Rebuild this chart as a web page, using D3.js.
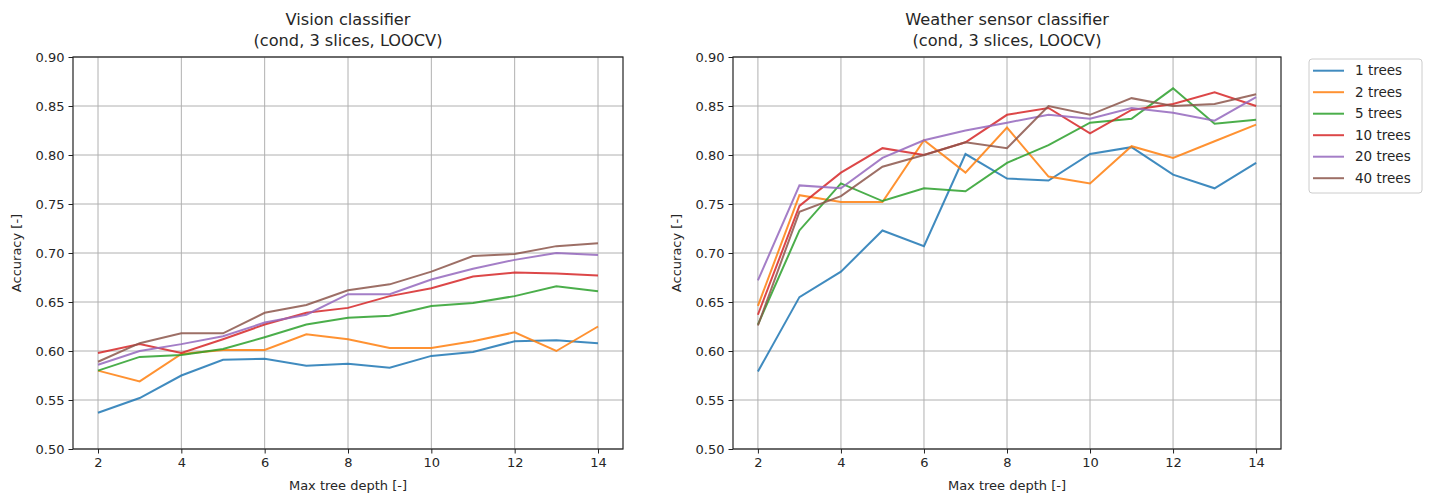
<!DOCTYPE html>
<html>
<head>
<meta charset="utf-8">
<script src="https://cdn.jsdelivr.net/npm/d3@7"></script>
<style>
  body { margin: 0; background: #fff; }
  text { font-family: "DejaVu Sans", sans-serif; fill: #262626; }
</style>
</head>
<body>
<div id="chart"></div>
<script>
// data
var depths = [2, 3, 4, 5, 6, 7, 8, 9, 10, 11, 12, 13, 14];
var seriesNames = ["1 trees", "2 trees", "5 trees", "10 trees", "20 trees", "40 trees"];
var colors = ["#1f77b4", "#ff7f0e", "#2ca02c", "#d62728", "#9467bd", "#8c564b"];
var xTicks = [2, 4, 6, 8, 10, 12, 14];
var yTicks = [0.50, 0.55, 0.60, 0.65, 0.70, 0.75, 0.80, 0.85, 0.90];

var vision1  = [0.537, 0.552, 0.575, 0.591, 0.592, 0.585, 0.587, 0.583, 0.595, 0.599, 0.610, 0.611, 0.608];
var vision2  = [0.580, 0.569, 0.597, 0.601, 0.601, 0.617, 0.612, 0.603, 0.603, 0.610, 0.619, 0.600, 0.625];
var vision5  = [0.580, 0.594, 0.596, 0.602, 0.614, 0.627, 0.634, 0.636, 0.646, 0.649, 0.656, 0.666, 0.661];
var vision10 = [0.598, 0.607, 0.598, 0.612, 0.627, 0.639, 0.644, 0.656, 0.664, 0.676, 0.680, 0.679, 0.677];
var vision20 = [0.586, 0.600, 0.607, 0.615, 0.629, 0.637, 0.658, 0.658, 0.673, 0.684, 0.693, 0.700, 0.698];
var vision40 = [0.589, 0.608, 0.618, 0.618, 0.639, 0.647, 0.662, 0.668, 0.681, 0.697, 0.699, 0.707, 0.710];

var weather1  = [0.579, 0.655, 0.681, 0.723, 0.707, 0.801, 0.776, 0.774, 0.801, 0.808, 0.780, 0.766, 0.792];
var weather2  = [0.646, 0.759, 0.752, 0.752, 0.815, 0.782, 0.828, 0.778, 0.771, 0.809, 0.797, 0.814, 0.831];
var weather5  = [0.627, 0.723, 0.771, 0.753, 0.766, 0.763, 0.792, 0.810, 0.833, 0.837, 0.868, 0.832, 0.836];
var weather10 = [0.637, 0.748, 0.782, 0.807, 0.800, 0.813, 0.841, 0.848, 0.822, 0.846, 0.852, 0.864, 0.850];
var weather20 = [0.672, 0.769, 0.766, 0.797, 0.815, 0.825, 0.833, 0.841, 0.837, 0.848, 0.843, 0.835, 0.859];
var weather40 = [0.626, 0.742, 0.758, 0.788, 0.800, 0.813, 0.807, 0.850, 0.841, 0.858, 0.850, 0.852, 0.862];

var W = 1431, H = 494;
var top_ = 57, bottom = 449;

var svg = d3.select("#chart").append("svg")
    .attr("width", W)
    .attr("height", H);

function drawPanel(left, right, titleLines, series) {
    var x = d3.scaleLinear().domain([1.4, 14.6]).range([left, right]);
    var y = d3.scaleLinear().domain([0.5, 0.9]).range([bottom, top_]);
    var g = svg.append("g");

    // grid
    g.selectAll(".vgrid").data(xTicks).enter().append("line")
        .attr("x1", d => x(d)).attr("x2", d => x(d))
        .attr("y1", top_).attr("y2", bottom)
        .attr("stroke", "#b0b0b0").attr("stroke-width", 1);
    g.selectAll(".hgrid").data(yTicks).enter().append("line")
        .attr("x1", left).attr("x2", right)
        .attr("y1", d => y(d)).attr("y2", d => y(d))
        .attr("stroke", "#b0b0b0").attr("stroke-width", 1);

    // lines
    var line = d3.line()
        .x((d, i) => x(depths[i]))
        .y(d => y(d));
    series.forEach(function(s, i) {
        g.append("path")
            .datum(s)
            .attr("d", line)
            .attr("fill", "none")
            .attr("stroke", colors[i])
            .attr("stroke-opacity", 0.85)
            .attr("stroke-width", 2);
    });

    // axes
    var xAxis = d3.axisBottom(x).tickValues(xTicks).tickSize(4.5).tickPadding(4).tickFormat(d3.format("d"));
    var yAxis = d3.axisLeft(y).tickValues(yTicks).tickSize(4.5).tickPadding(4).tickFormat(d3.format(".2f"));
    var ax = g.append("g").attr("transform", "translate(0," + bottom + ")").call(xAxis);
    var ay = g.append("g").attr("transform", "translate(" + left + ",0)").call(yAxis);
    [ax, ay].forEach(function(a) {
        a.select(".domain").remove();
        a.selectAll("line").attr("stroke", "#222");
        a.selectAll("text").style("font-size", "13px").attr("fill", "#262626")
            .style("font-family", "DejaVu Sans");
    });

    // frame
    g.append("rect")
        .attr("x", left).attr("y", top_)
        .attr("width", right - left).attr("height", bottom - top_)
        .attr("fill", "none").attr("stroke", "#222").attr("stroke-width", 1.2);

    // labels
    g.append("text")
        .attr("x", (left + right) / 2).attr("y", 490)
        .attr("text-anchor", "middle").style("font-size", "13px")
        .text("Max tree depth [-]");
    g.append("text")
        .attr("transform", "translate(" + (left - 57) + "," + ((top_ + bottom) / 2) + ") rotate(-90)")
        .attr("text-anchor", "middle").attr("dy", "0.35em").style("font-size", "13px")
        .text("Accuracy [-]");
    titleLines.forEach(function(t, i) {
        g.append("text")
            .attr("x", (left + right) / 2).attr("y", 25 + i * 21)
            .attr("text-anchor", "middle").style("font-size", "16.2px")
            .text(t);
    });
}

drawPanel(73, 623, ["Vision classifier", "(cond, 3 slices, LOOCV)"],
    [vision1, vision2, vision5, vision10, vision20, vision40]);
drawPanel(733, 1281, ["Weather sensor classifier", "(cond, 3 slices, LOOCV)"],
    [weather1, weather2, weather5, weather10, weather20, weather40]);

// legend
var leg = svg.append("g").attr("transform", "translate(1309,59)");
leg.append("rect")
    .attr("width", 113).attr("height", 134).attr("rx", 3)
    .attr("fill", "#fff").attr("stroke", "#cccccc");
seriesNames.forEach(function(n, i) {
    var yy = 11.7 + i * 21.5;
    leg.append("line")
        .attr("x1", 4).attr("x2", 35).attr("y1", yy).attr("y2", yy)
        .attr("stroke", colors[i]).attr("stroke-opacity", 0.85).attr("stroke-width", 2);
    leg.append("text")
        .attr("x", 46).attr("y", yy).attr("dy", "0.35em")
        .style("font-size", "13.5px")
        .text(n);
});
</script>
</body>
</html>
